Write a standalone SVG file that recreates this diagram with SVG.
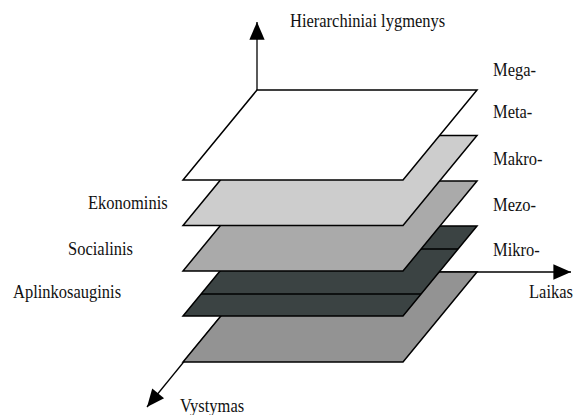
<svg xmlns="http://www.w3.org/2000/svg" width="578" height="415" viewBox="0 0 578 415">
<style>
  .plane { stroke: #000; stroke-width: 1.5; stroke-linejoin: miter; }
  .axis { stroke: #000; stroke-width: 1.3; fill: none; }
</style>
<defs>
  <marker id="arrow" markerUnits="userSpaceOnUse" markerWidth="20" markerHeight="20" refX="0" refY="0" viewBox="-16 -8 17 16" orient="auto">
    <path d="M0,0 L-15,-6.5 L-15,6.5 Z" fill="#000"/>
  </marker>
</defs>
<rect width="578" height="415" fill="#fff"/>
<g id="connectors">
  <line class="axis" x1="257" y1="272" x2="257" y2="22" marker-end="url(#arrow)"/>
  <line class="axis" x1="257" y1="272" x2="571" y2="272" marker-end="url(#arrow)"/>
  <line class="axis" x1="257" y1="272" x2="147" y2="407" marker-end="url(#arrow)"/>
</g>
<g id="plane-bottom">
  <polygon class="plane" points="257,272 477,272 403,362 183,362" fill="#939393"/>
</g>
<g id="plane-dark">
  <polygon class="plane" points="257,226 477,226 403,316 183,316" fill="#3b4343" stroke-width="2"/>
  <line x1="238" y1="249" x2="458" y2="249" stroke="#000" stroke-width="1.5"/>
  <line x1="201" y1="294" x2="421" y2="294" stroke="#000" stroke-width="1.5"/>
</g>
<g id="plane-mid">
  <polygon class="plane" points="257,181 477,181 403,271 183,271" fill="#aaaaaa"/>
</g>
<g id="plane-light">
  <polygon class="plane" points="257,135.5 477,135.5 403,225.5 183,225.5" fill="#cdcdcd"/>
</g>
<g id="plane-top">
  <polygon class="plane" points="257,90 477,90 403,180 183,180" fill="#ffffff"/>
</g>
<g font-family="Liberation Serif, DejaVu Serif, serif" font-size="16.5" fill="#111">
<g id="label-hier"><text transform="translate(290,27) scale(1,1.18)">Hierarchiniai lygmenys</text></g>
<g id="label-mega"><text transform="translate(493,76) scale(1,1.18)">Mega-</text></g>
<g id="label-meta"><text transform="translate(493,118) scale(1,1.18)">Meta-</text></g>
<g id="label-makro"><text transform="translate(493,165) scale(1,1.18)">Makro-</text></g>
<g id="label-mezo"><text transform="translate(493,211) scale(1,1.18)">Mezo-</text></g>
<g id="label-mikro"><text transform="translate(493,256) scale(1,1.18)">Mikro-</text></g>
<g id="label-laikas"><text transform="translate(529,298) scale(1,1.18)">Laikas</text></g>
<g id="label-vystymas"><text transform="translate(180,412) scale(1,1.18)">Vystymas</text></g>
<g id="label-ekonominis"><text transform="translate(88,209) scale(1,1.18)">Ekonominis</text></g>
<g id="label-socialinis"><text transform="translate(68,255) scale(1,1.18)">Socialinis</text></g>
<g id="label-aplinko"><text transform="translate(13,298) scale(1,1.18)">Aplinkosauginis</text></g>
</g>
</svg>
